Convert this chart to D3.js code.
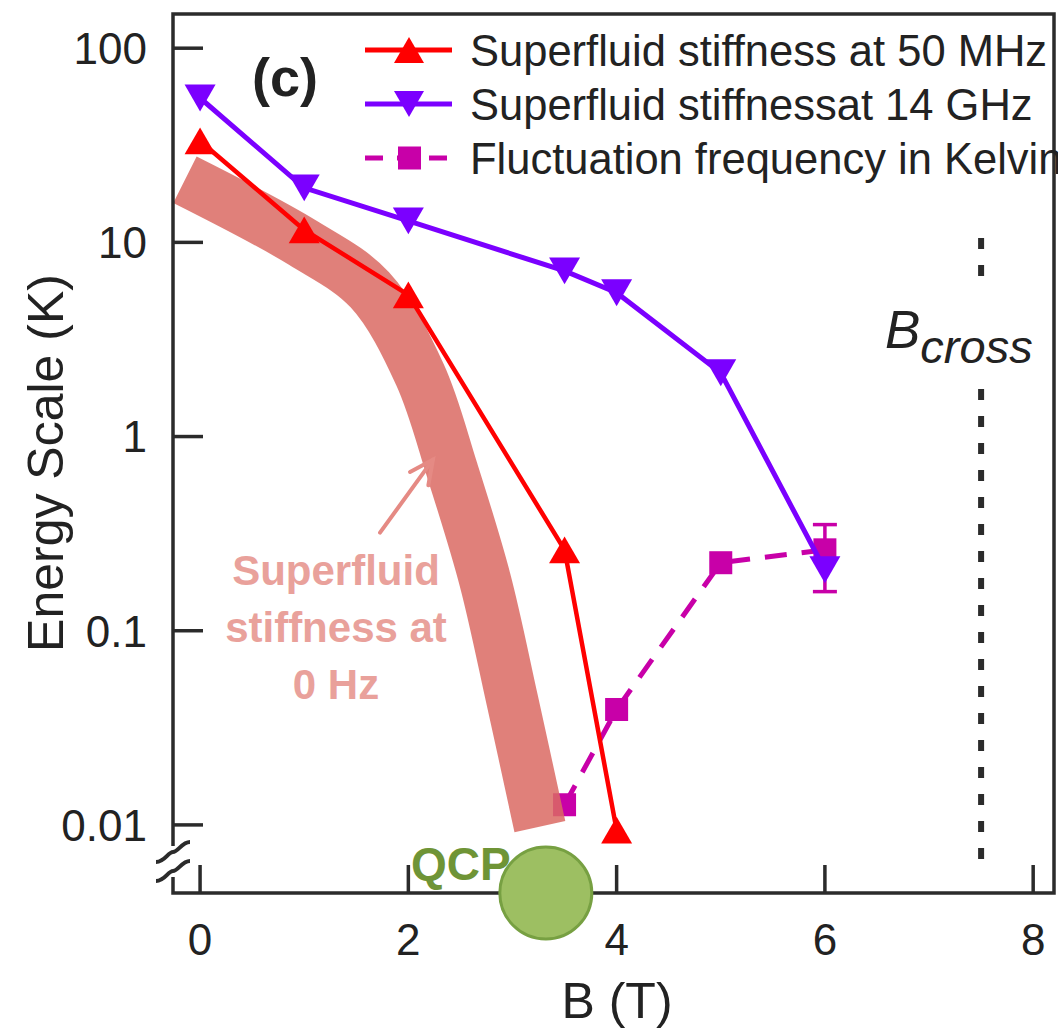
<!DOCTYPE html>
<html>
<head>
<meta charset="utf-8">
<script src="https://cdn.jsdelivr.net/npm/d3@7"></script>
<style>
  body { margin: 0; background: #fff; }
  svg { display: block; font-family: "Liberation Sans", Arial, Helvetica, sans-serif; }
</style>
</head>
<body>
<svg class="chart" width="1058" height="1029"></svg>
<script>
// values: B field (T) and energy scale (K)
const stiff50MHzB = [0, 1, 2, 3.5, 4]
const stiff50MHzK = [33.3, 11.6, 5.37, 0.261, 0.0094]

const stiff14GHzB = [0, 1, 2, 3.5, 4, 5, 6]
const stiff14GHzK = [55.4, 19.1, 12.9, 7.13, 5.5, 2.13, 0.206]

const flucB = [3.5, 4, 5, 6]
const flucK = [0.0127, 0.0393, 0.224, 0.261]
const flucErrLo = [null, null, null, 0.159]
const flucErrHi = [null, null, null, 0.352]

// centre line of the thick "0 Hz" band
const stiff0HzB = [-0.145, 0.988, 1.631, 2.112, 2.419, 2.736, 2.996, 3.263]
const stiff0HzK = [21.0, 9.94, 5.69, 2.08, 0.675, 0.183, 0.0443, 0.0098]

const qcpB = 3.32
const bCross = 7.5

const xTicks = [0, 2, 4, 6, 8]
const yTicks = [100, 10, 1, 0.1, 0.01]
const yTickLabels = ["100", "10", "1", "0.1", "0.01"]

const legendLabels = [
  "Superfluid stiffness at 50 MHz",
  "Superfluid stiffnessat 14 GHz",
  "Fluctuation frequency in Kelvin"
]

const RED = "#ff0000"
const PURPLE = "#7b00ff"
const MAGENTA = "#c800a8"
const AXIS = "#2b2b2b"

const box = { left: 173, top: 14, right: 1054, bottom: 893 }

const x = d3.scaleLinear().domain([-0.26, 8.2]).range([box.left, box.right])
const y = d3.scaleLog().domain([0.00446, 150]).range([box.bottom, box.top])

const svg = d3.select("svg.chart")

// bbox-centred triangle, s = side length
const triangle = (s, down) => {
  const h = s * 0.433 * (down ? -1 : 1)
  return `M0,${-h}L${s / 2},${h}L${-s / 2},${h}Z`
}

const zip = (a, b) => a.map((v, i) => [v, b[i]])
const line = d3.line().x((d) => x(d[0])).y((d) => y(d[1]))

const plot = svg.append("g")

// fluctuation frequency (dashed, squares) sits under the band
const fluc = zip(flucB, flucK)
plot.append("path")
  .attr("d", line(fluc))
  .attr("fill", "none")
  .attr("stroke", MAGENTA)
  .attr("stroke-width", 5)
  .attr("stroke-dasharray", "22 15")

flucB.forEach((b, i) => {
  if (flucErrLo[i] == null) return
  const g = plot.append("g").attr("stroke", MAGENTA).attr("stroke-width", 3.5)
  g.append("line").attr("x1", x(b)).attr("x2", x(b)).attr("y1", y(flucErrLo[i])).attr("y2", y(flucErrHi[i]))
  g.append("line").attr("x1", x(b) - 12).attr("x2", x(b) + 12).attr("y1", y(flucErrLo[i])).attr("y2", y(flucErrLo[i]))
  g.append("line").attr("x1", x(b) - 12).attr("x2", x(b) + 12).attr("y1", y(flucErrHi[i])).attr("y2", y(flucErrHi[i]))
})

plot.selectAll("rect.fluc")
  .data(fluc)
  .enter()
  .append("rect")
  .attr("class", "fluc")
  .attr("x", (d) => x(d[0]) - 11.5)
  .attr("y", (d) => y(d[1]) - 11.5)
  .attr("width", 23)
  .attr("height", 23)
  .attr("fill", MAGENTA)

// superfluid stiffness at 0 Hz - thick translucent band
const bandLine = d3.line().x((d) => x(d[0])).y((d) => y(d[1])).curve(d3.curveCatmullRom.alpha(0.5))
plot.append("path")
  .attr("d", bandLine(zip(stiff0HzB, stiff0HzK)))
  .attr("fill", "none")
  .attr("stroke", "rgb(218,106,99)")
  .attr("stroke-opacity", 0.85)
  .attr("stroke-width", 52)
  .attr("stroke-linecap", "butt")

// 14 GHz and 50 MHz series
const series = [
  { b: stiff14GHzB, k: stiff14GHzK, color: PURPLE, width: 5, down: true },
  { b: stiff50MHzB, k: stiff50MHzK, color: RED, width: 4.5, down: false }
]

series.forEach((s) => {
  const pts = zip(s.b, s.k)
  plot.append("path")
    .attr("d", line(pts))
    .attr("fill", "none")
    .attr("stroke", s.color)
    .attr("stroke-width", s.width)
  plot.selectAll(null)
    .data(pts)
    .enter()
    .append("path")
    .attr("d", triangle(31, s.down))
    .attr("transform", (d) => `translate(${x(d[0])},${y(d[1])})`)
    .attr("fill", s.color)
})

// annotation for the band
const note = svg.append("g").attr("fill", "#e9a19b")
  .attr("font-weight", "bold").attr("font-size", 42).attr("text-anchor", "middle")
;["Superfluid", "stiffness at", "0 Hz"].forEach((t, i) => {
  note.append("text").attr("x", 336).attr("y", 585 + i * 57).text(t)
})

const arrowTail = [x(1.728), y(0.32)]
const arrowTip = [x(2.236), y(0.76)]
const ang = Math.atan2(arrowTip[1] - arrowTail[1], arrowTip[0] - arrowTail[0])
const head = (a) => [arrowTip[0] - 26 * Math.cos(ang + a), arrowTip[1] - 26 * Math.sin(ang + a)]
const arrow = svg.append("g").attr("stroke", "#e58a84").attr("stroke-width", 4).attr("fill", "none")
  .attr("stroke-linecap", "round")
arrow.append("path").attr("d", d3.line()([arrowTail, arrowTip]))
arrow.append("path").attr("d", d3.line()([head(0.45), arrowTip, head(-0.45)]))

// B_cross dotted line and label
const bc = svg.append("g").attr("stroke", AXIS).attr("stroke-width", 6).attr("stroke-dasharray", "11 16")
bc.append("line").attr("x1", x(bCross)).attr("x2", x(bCross)).attr("y1", 238).attr("y2", 285)
bc.append("line").attr("x1", x(bCross)).attr("x2", x(bCross)).attr("y1", 389).attr("y2", 872)

const bcText = svg.append("text")
  .attr("x", 885).attr("y", 348)
  .attr("font-style", "italic").attr("fill", "#222")
bcText.append("tspan").attr("font-size", 53).text("B")
bcText.append("tspan").attr("font-size", 47).attr("dy", 15).text("cross")

// frame and axes
const frame = svg.append("g").attr("stroke", AXIS).attr("stroke-width", 3.5).attr("fill", "none")
frame.append("path").attr("d", `M${box.left},846V${box.top}H${box.right}V${box.bottom}H${box.left}V877`)

frame.selectAll("line.ytick")
  .data(yTicks)
  .enter()
  .append("line")
  .attr("class", "ytick")
  .attr("x1", box.left).attr("x2", box.left + 30)
  .attr("y1", (d) => y(d)).attr("y2", (d) => y(d))

frame.selectAll("line.xtick")
  .data(xTicks)
  .enter()
  .append("line")
  .attr("class", "xtick")
  .attr("x1", (d) => x(d)).attr("x2", (d) => x(d))
  .attr("y1", box.bottom).attr("y2", box.bottom - 28)

// axis break marks
;[852, 871].forEach((cy) => {
  frame.append("path")
    .attr("d", `M${box.left - 17},${cy + 10}C${box.left - 8},${cy + 10} ${box.left - 5},${cy} ${box.left},${cy}S${box.left + 9},${cy - 10} ${box.left + 17},${cy - 10}`)
    .attr("stroke-width", 4)
})

svg.append("g")
  .attr("font-size", 44).attr("fill", "#222").attr("text-anchor", "end")
  .selectAll("text")
  .data(yTicks)
  .enter()
  .append("text")
  .attr("x", 147)
  .attr("y", (d) => y(d))
  .attr("dy", "0.36em")
  .text((d, i) => yTickLabels[i])

svg.append("g")
  .attr("font-size", 44).attr("fill", "#222").attr("text-anchor", "middle")
  .selectAll("text")
  .data(xTicks)
  .enter()
  .append("text")
  .attr("x", (d) => x(d))
  .attr("y", 955)
  .text((d) => d)

svg.append("text")
  .attr("x", 617).attr("y", 1018)
  .attr("font-size", 50).attr("fill", "#222").attr("text-anchor", "middle")
  .text("B (T)")

svg.append("text")
  .attr("transform", "translate(63,463) rotate(-90)")
  .attr("font-size", 50).attr("fill", "#222").attr("text-anchor", "middle")
  .text("Energy Scale (K)")

svg.append("text")
  .attr("x", 252).attr("y", 96)
  .attr("font-size", 54).attr("font-weight", "bold").attr("fill", "#222")
  .text("(c)")

// QCP marker on the field axis
svg.append("circle")
  .attr("cx", x(qcpB)).attr("cy", box.bottom).attr("r", 46)
  .attr("fill", "#9dbf62").attr("stroke", "#77a042").attr("stroke-width", 3)
svg.append("text")
  .attr("x", 411).attr("y", 880)
  .attr("font-size", 46).attr("font-weight", "bold").attr("fill", "#6f9436")
  .text("QCP")

// legend
const legend = svg.append("g")
legendLabels.forEach((label, i) => {
  const ly = 50 + i * 54
  const row = legend.append("g").attr("transform", `translate(0,${ly})`)
  const color = [RED, PURPLE, MAGENTA][i]
  row.append("line")
    .attr("x1", 365).attr("x2", 452).attr("y1", 0).attr("y2", 0)
    .attr("stroke", color).attr("stroke-width", 5)
    .attr("stroke-dasharray", i === 2 ? "18 14" : null)
  if (i === 2) {
    row.append("rect").attr("x", 398).attr("y", -11.5).attr("width", 23).attr("height", 23).attr("fill", color)
  } else {
    row.append("path").attr("d", triangle(30, i === 1)).attr("transform", "translate(409,0)").attr("fill", color)
  }
  row.append("text")
    .attr("x", 470).attr("y", 0).attr("dy", "0.36em")
    .attr("font-size", 43.5).attr("fill", "#222")
    .text(label)
})
</script>
</body>
</html>
